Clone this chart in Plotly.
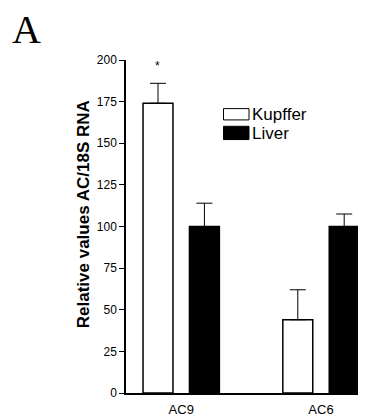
import plotly.graph_objects as go

# ---- data ----
genes = ["AC9", "AC6"]
kupffer_vals = [174, 44]
kupffer_err = [12, 18]
liver_vals = [100, 100]
liver_err = [14, 7.5]
y_ticks = [0, 25, 50, 75, 100, 125, 150, 175, 200]

# page body adds an 8px margin; size the figure so it fills the window exactly
OFF = 8
W, H = 366 - OFF, 417 - OFF
L, R, T, B = 126 - OFF, 0, 60 - OFF, 417 - 399
PW, PH = W - L - R, H - T - B

def px(xp):  # window pixel x -> paper
    return (xp - OFF - L) / PW

def py(yp):  # window pixel y -> paper
    return (H - B - (yp - OFF)) / PH

FONT = "Liberation Sans, Arial, Helvetica, sans-serif"

fig = go.Figure()
fig.add_trace(go.Bar(
    x=genes, y=kupffer_vals, name="Kupffer",
    marker=dict(color="white", line=dict(color="black", width=1.5)),
    error_y=dict(type="data", array=kupffer_err, arrayminus=[0, 0], symmetric=False,
                 color="black", thickness=1, width=8),
))
fig.add_trace(go.Bar(
    x=genes, y=liver_vals, name="Liver",
    marker=dict(color="black", line=dict(color="black", width=1.5)),
    error_y=dict(type="data", array=liver_err, arrayminus=[0, 0], symmetric=False,
                 color="black", thickness=1, width=8),
))

fig.update_layout(
    width=W, height=H,
    margin=dict(l=L, r=R, t=T, b=B, pad=0),
    paper_bgcolor="white", plot_bgcolor="white",
    barmode="group", bargap=0.336, bargroupgap=0.355,
    showlegend=False,
    font=dict(family=FONT, color="black", size=12),
    xaxis=dict(range=[-0.395, 1.322], showline=True, linecolor="black", linewidth=1.5,
               ticks="", showgrid=False, zeroline=False, ticklabelstandoff=4,
               tickfont=dict(size=13)),
    yaxis=dict(range=[0, 200], showline=True, linecolor="black", linewidth=1.5,
               ticks="outside", ticklen=5, tickcolor="black", tickwidth=1,
               tickvals=y_ticks, showgrid=False, zeroline=False,
               tickfont=dict(size=12)),
)

# significance asterisk
fig.add_annotation(x=genes[0], y=196.5, xshift=-23.5, text="*", showarrow=False,
                   font=dict(size=12), yanchor="middle")

# y-axis title
fig.add_annotation(xref="paper", yref="paper", x=px(83.5), y=py(217.5),
                   text="<b>Relative values AC/18S RNA</b>", textangle=-90,
                   showarrow=False, font=dict(size=17), xanchor="center", yanchor="middle")

# panel letter
fig.add_annotation(xref="paper", yref="paper", x=px(10), y=py(28.5),
                   text="A", showarrow=False, xanchor="left", yanchor="middle",
                   font=dict(family="Liberation Serif, Times New Roman, serif", size=40))

# legend (manual)
fig.add_shape(type="rect", xref="paper", yref="paper",
              x0=px(223.5), x1=px(249), y0=py(121), y1=py(109.5),
              line=dict(color="black", width=1), fillcolor="white")
fig.add_shape(type="rect", xref="paper", yref="paper",
              x0=px(223.5), x1=px(249), y0=py(141), y1=py(127.5),
              line=dict(color="black", width=1), fillcolor="black")
fig.add_annotation(xref="paper", yref="paper", x=px(249.5), y=py(115.5), text="Kupffer",
                   showarrow=False, xanchor="left", yanchor="middle", font=dict(size=17))
fig.add_annotation(xref="paper", yref="paper", x=px(249.5), y=py(134.5), text="Liver",
                   showarrow=False, xanchor="left", yanchor="middle", font=dict(size=17))

fig.write_html("out.html")
